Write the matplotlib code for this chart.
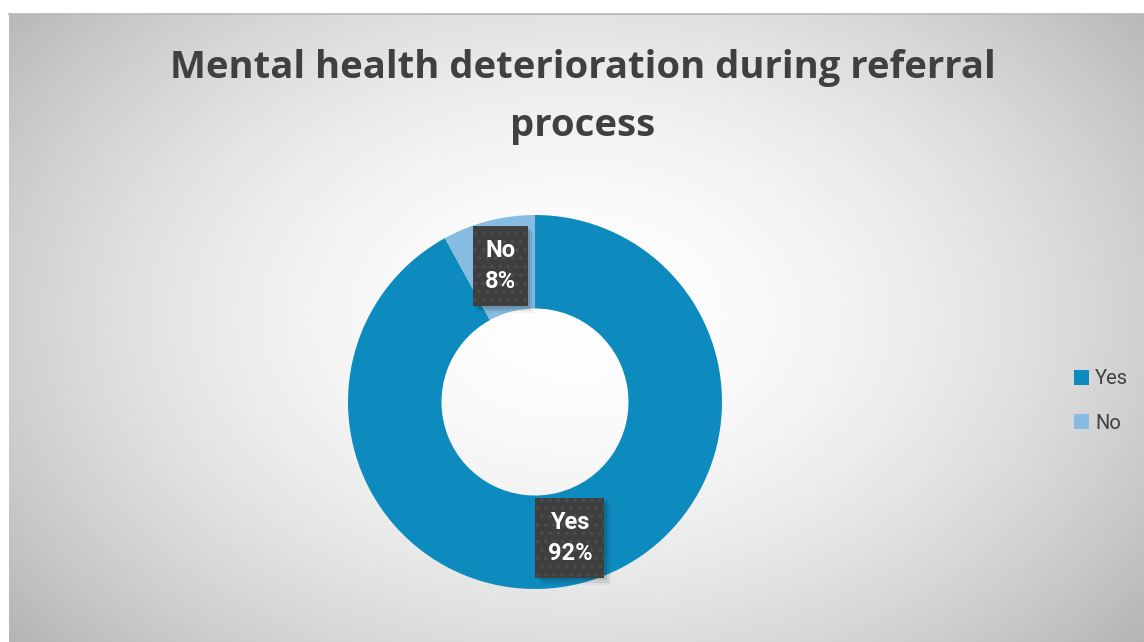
import numpy as np
import matplotlib.pyplot as plt
from matplotlib.patches import Rectangle, Patch

# data
labels = ["Yes", "No"]
shares = [92, 8]
colors = ["#0E8BBE", "#86BCE2"]
title = "Mental health deterioration during referral\nprocess"

W, H = 1144, 642
fig = plt.figure(figsize=(W / 100, H / 100), dpi=100)
fig.patch.set_facecolor("white")

# radial gradient backdrop of the chart area
bg = fig.add_axes([9 / W, 0, 1 - 9 / W, (H - 14) / H])
bg.set_axis_off()
gx, gy = np.meshgrid(np.linspace(0, 1, 600), np.linspace(0, 1, 400))
r = np.sqrt(((gx - 0.5) / 0.62) ** 2 + ((gy - 0.52) / 0.78) ** 2)
shade = 1.0 - 0.27 * np.clip(r, 0, 1.1) ** 1.8
bg.imshow(np.dstack([shade] * 3), extent=[0, 1, 0, 1], aspect="auto", origin="lower")
bg.plot([0, 1], [1, 1], color="#b8b8b8", lw=1.2, transform=bg.transAxes, clip_on=False)

cx, cy, rad = 535, 402, 187
ax = fig.add_axes([(cx - rad) / W, (H - cy - rad) / H, 2 * rad / W, 2 * rad / H])
ax.set_axis_off()
wedges, _ = ax.pie(shares, colors=colors, startangle=90, counterclock=False,
                   radius=1.0, wedgeprops=dict(width=0.5, linewidth=0))
ax.set_xlim(-1, 1)
ax.set_ylim(-1, 1)

# value boxes in the middle of the ring
plt.rcParams["hatch.linewidth"] = 1.5
box_size = {"Yes": (0.37, 0.43), "No": (0.295, 0.43)}
for w, lab, val in zip(wedges, labels, shares):
    mid = np.deg2rad((w.theta1 + w.theta2) / 2)
    x, y = 0.75 * np.cos(mid), 0.75 * np.sin(mid)
    bw, bh = box_size[lab]
    for k, a in enumerate([0.10, 0.07, 0.04]):
        d = 0.012 * (k + 1)
        ax.add_patch(Rectangle((x - bw / 2 + d, y - bh / 2 - d), bw, bh,
                               facecolor="black", alpha=a, lw=0, zorder=3))
    ax.add_patch(Rectangle((x - bw / 2, y - bh / 2), bw, bh, facecolor="#3f3f3f",
                           edgecolor="#4c4c4c", hatch="..", lw=0, zorder=4))
    ax.text(x, y, f"{lab}\n{val}%", ha="center", va="center", color="white",
            fontsize=17, fontweight="bold", family="Roboto", linespacing=1.45,
            zorder=5)

fig.text(583 / W, 1 - 97 / H, title, ha="center", va="center", fontsize=27.5,
         fontweight="bold", color="#404040", family="Open Sans", linespacing=1.7)

handles = [Patch(facecolor=c, label=l) for c, l in zip(colors, labels)]
fig.legend(handles=handles, loc="center left", bbox_to_anchor=(1056 / W, 1 - 401 / H),
           frameon=False, prop=dict(family="Roboto", size=14.5), handlelength=0.75,
           handleheight=0.75, handletextpad=0.3, labelspacing=1.25, labelcolor="#404040")

fig.savefig("out.png", dpi=100)
